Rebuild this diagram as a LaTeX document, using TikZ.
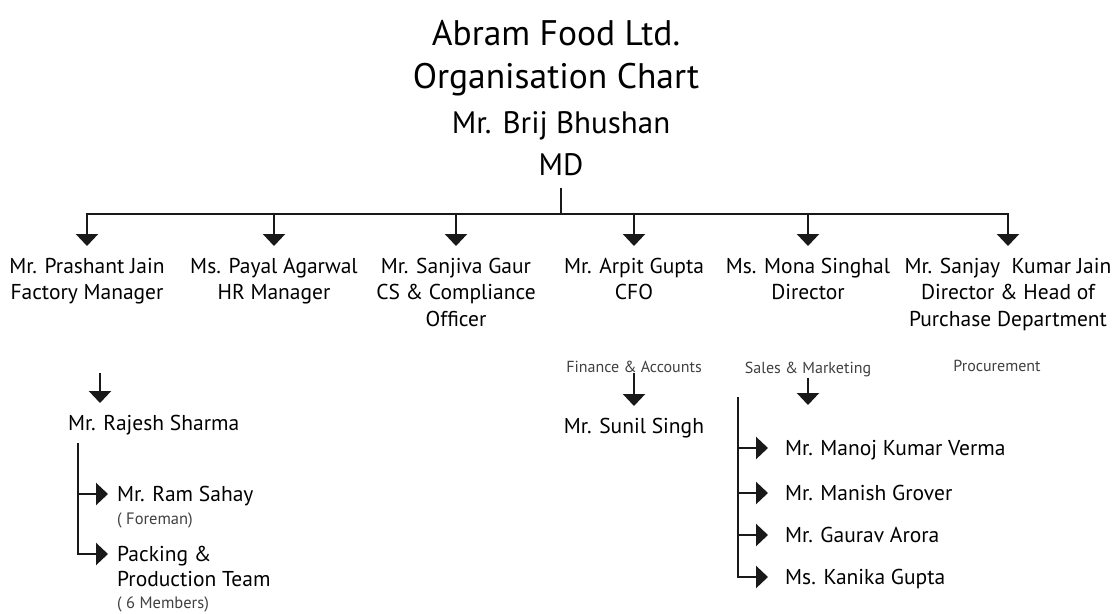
\documentclass[tikz,border=0pt]{standalone}
\usepackage{fontspec}
\setmainfont{PT Sans}
\usetikzlibrary{arrows.meta,positioning}
\tikzset{line/.style={line width=2.4pt, black!90},
         arr/.style={line, -{Triangle[width=22pt,length=12pt]}},
         heading/.style={anchor=base, inner sep=0pt, font=\fontsize{35.5}{43}\selectfont},
         boss/.style={anchor=base, inner sep=0pt, font=\fontsize{31}{42}\selectfont},
         person/.style={anchor=base, inner sep=0pt, text height=18.5pt, outer ysep=8.5pt, font=\fontsize{21.5}{26.5}\selectfont},
         member/.style={anchor=west, inner sep=0pt, text height=14pt, text depth=0pt, font=\fontsize{21.5}{25}\selectfont},
         dept/.style={anchor=base, inner sep=1pt, black!75, font=\fontsize{16}{19}\selectfont}}
\newcommand{\namelines}[2][c]{\begin{tabular}[t]{@{}#1@{}}#2\end{tabular}}
\newcommand{\note}[1]{{\fontsize{16.5}{19}\selectfont\color{black!75}#1}}

\begin{document}
\begin{tikzpicture}[x=1pt,y=-1pt]
  \useasboundingbox (0,0) rectangle (1118,613);
  \begin{scope}
   \node[heading] (title) at ( 556, 45) {\namelines{Abram Food Ltd.\\Organisation Chart}};
   \node[boss]    (md)    at ( 561,133) {\namelines{Mr. Brij Bhushan\\MD}};
   \coordinate    (bus)   at ( 561,214);
   \node[person] (prashant) at (  87,273) {\namelines{Mr. Prashant Jain\\Factory Manager}};
   \node[person] (payal)    at ( 274,273) {\namelines{Ms. Payal Agarwal\\HR Manager}};
   \node[person] (sanjiva)  at ( 456,273) {\namelines{Mr. Sanjiva Gaur\\CS \& Compliance\\Officer}};
   \node[person] (arpit)    at ( 634,273) {\namelines{Mr. Arpit Gupta\\CFO}};
   \node[person] (mona)     at ( 808,273) {\namelines{Ms. Mona Singhal\\Director}};
   \node[person] (sanjay)   at (1008,273) {\namelines{Mr. Sanjay\ \ Kumar Jain\\Director \& Head of\\Purchase Department}};
   \draw[line] (md.south) -- (bus);
   \draw[line, line cap=rect] (prashant.north |- bus) -- (sanjay.north |- bus);
   \foreach \who in {prashant,payal,sanjiva,arpit,mona,sanjay}
     \draw[arr] (\who.north |- bus) -- (\who.north);
  \end{scope}
  % factory
  \begin{scope}
   \coordinate (rtop) at (100,373);
   \coordinate (rv)   at ( 78,443);
   \node[person, anchor=base west] (rajesh) at ( 68,430) {Mr. Rajesh Sharma};
   \node[member] (ram)  at (108,494) {\hspace{9pt}\namelines[l]{Mr. Ram Sahay\\[-2pt]\note{( Foreman)}}};
   \node[member] (pack) at (108,554) {\hspace{9pt}\namelines[l]{Packing \&\\Production Team\\[-3pt]\note{( 6 Members)}}};
   \draw[arr] (rtop) -- (rtop |- rajesh.north);
   \draw[arr] (rv |- ram.west) -- (ram.west);
   \draw[arr] (rv) |- (pack.west);
  \end{scope}
  % finance, sales, procurement
  \begin{scope}
   \node[dept]   (fin)   at (634,372) {Finance \& Accounts};
   \node[person] (sunil) at (634,433) {Mr. Sunil Singh};
   \draw[arr] (fin.south) -- (sunil.north);
   \node[dept]   (sales) at (808,373) {Sales \& Marketing};
   \coordinate   (s0)    at (808,405);
   \draw[arr] (sales.south) -- (s0);
   \node[dept]   (proc)  at (997,371) {Procurement};
   \coordinate   (sv)    at (738,397);
   \node[member] (manoj)  at (768,448) {\hspace{17pt}Mr. Manoj Kumar Verma};
   \node[member] (manish) at (768,493) {\hspace{17pt}Mr. Manish Grover};
   \node[member] (gaurav) at (768,535) {\hspace{17pt}Mr. Gaurav Arora};
   \node[member] (kanika) at (768,577) {\hspace{17pt}Ms. Kanika Gupta};
   \foreach \who in {manoj,manish,gaurav}
     \draw[arr] (sv |- \who.west) -- (\who.west);
   \draw[arr] (sv) |- (kanika.west);
  \end{scope}
\end{tikzpicture}
\end{document}
